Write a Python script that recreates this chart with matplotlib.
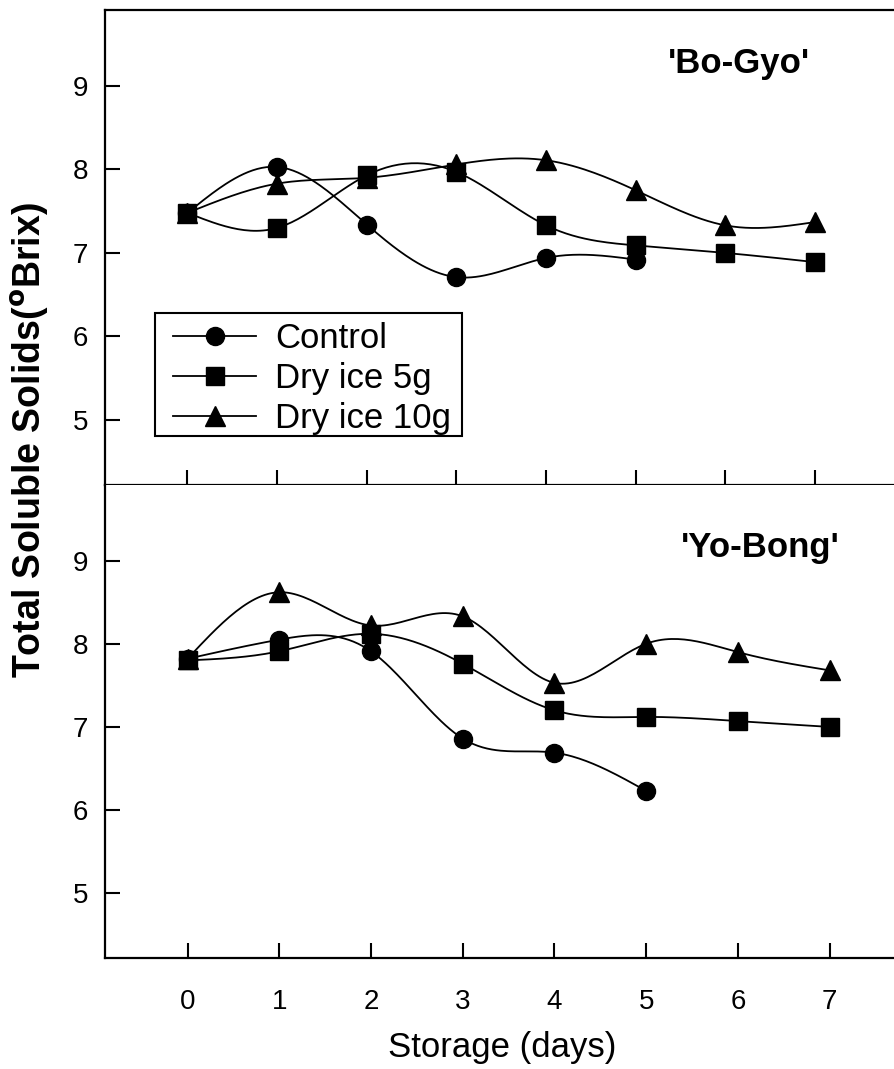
import numpy as np
import matplotlib
matplotlib.use("Agg")
import matplotlib.pyplot as plt
from matplotlib.patches import Rectangle

plt.rcParams['font.family'] = ['Liberation Sans', 'DejaVu Sans']

# storage days
days = [0, 1, 2, 3, 4, 5, 6, 7]

# 'Bo-Gyo'
bogyo_control = [7.48, 8.03, 7.34, 6.71, 6.94, 6.92]
bogyo_dry5 = [7.48, 7.30, 7.93, 7.97, 7.33, 7.09, 7.00, 6.89]
bogyo_dry10 = [7.48, 7.83, 7.90, 8.06, 8.11, 7.75, 7.33, 7.37]

# 'Yo-Bong'
yobong_control = [7.82, 8.05, 7.91, 6.86, 6.69, 6.23]
yobong_dry5 = [7.80, 7.91, 8.12, 7.76, 7.20, 7.12, 7.07, 7.00]
yobong_dry10 = [7.82, 8.62, 8.22, 8.33, 7.53, 8.00, 7.90, 7.68]

labels = ['Control', 'Dry ice 5g', 'Dry ice 10g']
markers = ['o', 's', '^']
msizes = [13, 13, 15]


def spline(x, y, n=200):
    # natural cubic spline through the points, for smooth connecting lines
    x = np.asarray(x, float)
    y = np.asarray(y, float)
    k = len(x)
    h = np.diff(x)
    A = np.zeros((k, k))
    r = np.zeros(k)
    A[0, 0] = A[-1, -1] = 1
    for i in range(1, k - 1):
        A[i, i - 1] = h[i - 1]
        A[i, i] = 2 * (h[i - 1] + h[i])
        A[i, i + 1] = h[i]
        r[i] = 6 * ((y[i + 1] - y[i]) / h[i] - (y[i] - y[i - 1]) / h[i - 1])
    m = np.linalg.solve(A, r)
    xs = np.linspace(x[0], x[-1], n)
    idx = np.clip(np.searchsorted(x, xs) - 1, 0, k - 2)
    x0, x1 = x[idx], x[idx + 1]
    hh = x1 - x0
    t0, t1 = x1 - xs, xs - x0
    ys = (m[idx] * t0 ** 3 + m[idx + 1] * t1 ** 3) / (6 * hh) \
        + (y[idx] / hh - m[idx] * hh / 6) * t0 \
        + (y[idx + 1] / hh - m[idx + 1] * hh / 6) * t1
    return xs, ys


W, H = 894, 1069
fig = plt.figure(figsize=(W / 100, H / 100), dpi=100)
left = 105 / W
ax1 = fig.add_axes([left, 1 - 485 / H, 1 - left + 0.01, (485 - 10) / H])
ax2 = fig.add_axes([left, 1 - 958 / H, 1 - left + 0.01, (958 - 485) / H])

panels = [
    (ax1, "'Bo-Gyo'", [bogyo_control, bogyo_dry5, bogyo_dry10], (-0.92, 7.98), 810, 63),
    (ax2, "'Yo-Bong'", [yobong_control, yobong_dry5, yobong_dry10], (-0.90, 7.80), 840, 547),
]

for ax, name, series, xl, tx, ty in panels:
    for vals, lab, mk, ms in zip(series, labels, markers, msizes):
        xx = days[:len(vals)]
        xs, ys = spline(xx, vals)
        ax.plot(xs, ys, color='black', lw=1.3, zorder=2)
        ax.plot(xx, vals, ls='none', marker=mk, ms=ms, color='black', zorder=3)
        # legend proxy
        ax.plot([], [], color='black', lw=1.3, marker=mk, ms=ms, label=lab)
    ax.set_xlim(*xl)
    ax.set_ylim(4.22, 9.91)
    ax.set_xticks(days)
    ax.set_yticks([5, 6, 7, 8, 9])
    ax.spines['right'].set_visible(False)
    for s in ax.spines.values():
        s.set_linewidth(1.6)
    ax.tick_params(axis='both', direction='in', length=11, width=1.5,
                   labelsize=20, pad=12)
    ax.tick_params(axis='x', pad=22)
    fig.text(tx / W, 1 - ty / H, name, fontsize=25, fontweight='bold',
             ha='right', va='center')

ax1.tick_params(axis='x', labelbottom=False)
ax2.spines['top'].set_visible(False)

handles, labs = ax1.get_legend_handles_labels()
leg = fig.legend(handles, labs, loc='upper left',
                 bbox_to_anchor=(173 / W, 1 - 322 / H), borderaxespad=0,
                 fontsize=25, frameon=False,
                 handlelength=2.4, handletextpad=0.55, labelspacing=0.2,
                 borderpad=0)
# legend frame
fig.add_artist(Rectangle((155 / W, 1 - 436 / H), 307 / W, 123 / H,
                         transform=fig.transFigure, fill=False,
                         edgecolor='black', lw=1.5))

fig.text(30 / W, 1 - 440 / H, r'Total Soluble Solids($\mathbf{^{o}}$Brix)',
         rotation=90, fontsize=27, fontweight='bold', ha='center', va='center')
fig.text(502 / W, 1 - 1048 / H, 'Storage (days)', fontsize=25,
         ha='center', va='center')

fig.savefig('out.png', dpi=100)
